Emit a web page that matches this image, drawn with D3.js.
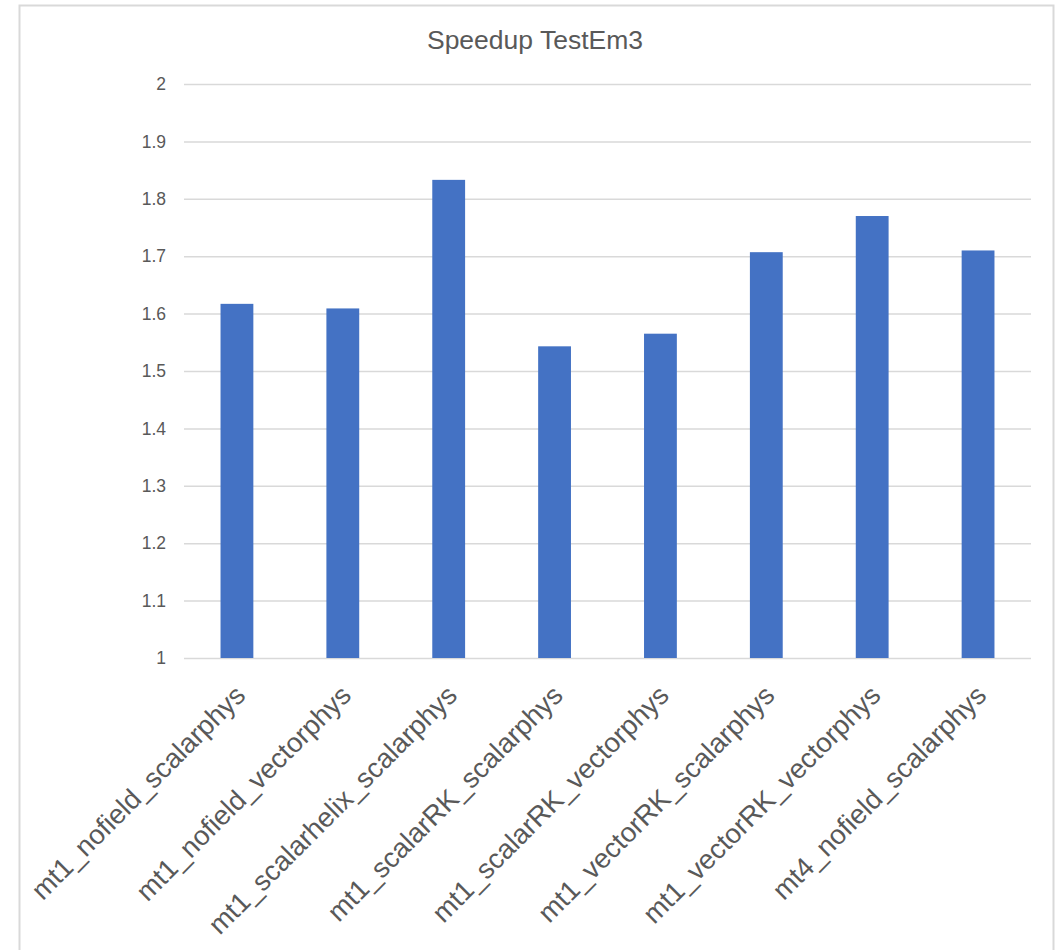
<!DOCTYPE html>
<html>
<head>
<meta charset="utf-8">
<script src="https://cdn.jsdelivr.net/npm/d3@7/dist/d3.min.js"></script>
<style>
  html, body { margin: 0; padding: 0; background: #ffffff; }
  svg { display: block; }
  text { font-family: "Liberation Sans", Arial, sans-serif; fill: #595959; }
</style>
</head>
<body>
<svg id="chart" width="1064" height="950"></svg>
<script>
// Speedup per TestEm3 configuration
const categories = [
  "mt1_nofield_scalarphys",
  "mt1_nofield_vectorphys",
  "mt1_scalarhelix_scalarphys",
  "mt1_scalarRK_scalarphys",
  "mt1_scalarRK_vectorphys",
  "mt1_vectorRK_scalarphys",
  "mt1_vectorRK_vectorphys",
  "mt4_nofield_scalarphys"
];
const speedup = [1.617, 1.609, 1.833, 1.543, 1.565, 1.707, 1.770, 1.710];
const yTicks = [1, 1.1, 1.2, 1.3, 1.4, 1.5, 1.6, 1.7, 1.8, 1.9, 2];
const yTickLabels = ["1", "1.1", "1.2", "1.3", "1.4", "1.5", "1.6", "1.7", "1.8", "1.9", "2"];
const title = "Speedup TestEm3";

const svg = d3.select("#chart");

// chart frame
svg.append("rect")
  .attr("x", 19.5).attr("y", 5.5)
  .attr("width", 1034).attr("height", 960)
  .attr("fill", "#ffffff")
  .attr("stroke", "#d9d9d9")
  .attr("stroke-width", 2);

const plot = { left: 184, right: 1031, top: 84, bottom: 658 };

const x = d3.scaleBand()
  .domain(categories)
  .range([plot.left, plot.right])
  .paddingInner(0.69)
  .paddingOuter(0.345);

const y = d3.scaleLinear()
  .domain([1, 2])
  .range([plot.bottom, plot.top]);

// horizontal gridlines + y labels
const yAxis = d3.axisLeft(y)
  .tickValues(yTicks)
  .tickFormat((d, i) => yTickLabels[i])
  .tickSize(-(plot.right - plot.left))
  .tickPadding(18);

const gy = svg.append("g")
  .attr("transform", `translate(${plot.left},0)`)
  .call(yAxis);
gy.select(".domain").remove();
gy.selectAll(".tick line").attr("stroke", "#d9d9d9").attr("stroke-width", 1.5);
gy.selectAll(".tick text")
  .attr("font-size", "17.5px")
  .attr("fill", "#595959")
  .style("font-family", "'Liberation Sans', Arial, sans-serif");

// bars
svg.append("g")
  .selectAll("rect")
  .data(speedup)
  .join("rect")
  .attr("x", (d, i) => x(categories[i]))
  .attr("width", x.bandwidth())
  .attr("y", d => y(d))
  .attr("height", d => y(1) - y(d))
  .attr("fill", "#4472c4");

// category labels, rotated
const xAxis = d3.axisBottom(x).tickSize(0).tickPadding(0);
const gx = svg.append("g")
  .attr("transform", `translate(0,${plot.bottom})`)
  .call(xAxis);
gx.select(".domain").remove();
gx.selectAll(".tick text")
  .attr("font-size", "27.5px")
  .attr("fill", "#595959")
  .style("font-family", "'Liberation Sans', Arial, sans-serif")
  .attr("text-anchor", "end")
  .attr("dy", null)
  .attr("y", null)
  .attr("transform", "translate(10,39) rotate(-45)");

// title
svg.append("text")
  .attr("x", 535)
  .attr("y", 49)
  .attr("text-anchor", "middle")
  .attr("font-size", "26.5px")
  .attr("fill", "#595959")
  .text(title);
</script>
</body>
</html>
